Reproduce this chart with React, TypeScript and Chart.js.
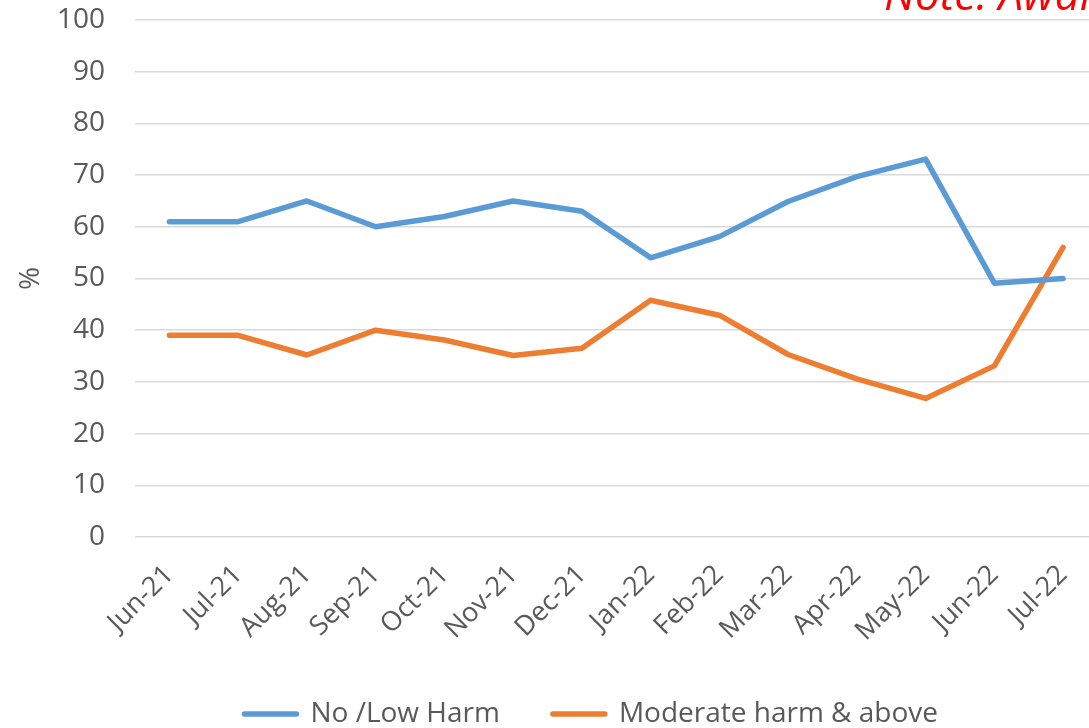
import React, { useEffect, useRef } from "react";
import { Chart, registerables } from "chart.js";

Chart.register(...registerables);

const categories = [
  "Jun-21", "Jul-21", "Aug-21", "Sep-21", "Oct-21", "Nov-21", "Dec-21",
  "Jan-22", "Feb-22", "Mar-22", "Apr-22", "May-22", "Jun-22", "Jul-22",
];
const noLowHarm = [61, 61, 65, 60, 62, 65, 63, 54, 58.1, 64.9, 69.7, 73.1, 49.1, 50];
const moderateAbove = [39, 39, 35.2, 40, 38.1, 35.1, 36.5, 45.8, 42.9, 35.3, 30.6, 26.8, 33.1, 56];
const seriesNames = ["No /Low Harm", "Moderate harm & above"];
const noteText = "Note: Awaiting";

const FONT = "'Open Sans', 'DejaVu Sans', sans-serif";
const GREY = "#595959";

const legendShift = {
  id: "legendShift",
  afterLayout(chart: any) {
    if (chart.legend) {
      chart.legend.left -= 25;
      chart.legend.right -= 25;
    }
  },
};

export default function App() {
  const ref = useRef<HTMLCanvasElement | null>(null);

  useEffect(() => {
    const canvas = ref.current;
    if (!canvas) return;
    const chart = new Chart(canvas, {
      type: "line",
      data: {
        labels: categories,
        datasets: [
          {
            label: seriesNames[0],
            data: noLowHarm,
            borderColor: "#5b9bd5",
            backgroundColor: "#5b9bd5",
            borderWidth: 5.5,
            pointRadius: 0,
            borderCapStyle: "round",
            borderJoinStyle: "round",
            tension: 0,
          },
          {
            label: seriesNames[1],
            data: moderateAbove,
            borderColor: "#ed7d31",
            backgroundColor: "#ed7d31",
            borderWidth: 5.5,
            pointRadius: 0,
            borderCapStyle: "round",
            borderJoinStyle: "round",
            tension: 0,
          },
        ],
      },
      plugins: [legendShift],
      options: {
        responsive: false,
        animation: false,
        devicePixelRatio: 1,
        layout: { padding: { top: 20, left: 0, right: 0, bottom: -10 } },
        plugins: {
          tooltip: { enabled: false },
          legend: {
            position: "bottom",
            fullSize: false,
            labels: {
              boxWidth: 52,
              boxHeight: 0,
              padding: 53,
              color: GREY,
              font: { family: FONT, size: 28 },
            },
          },
        },
        scales: {
          x: {
            type: "category",
            offset: true,
            grid: { display: false },
            border: { display: false },
            ticks: {
              color: GREY,
              font: { family: FONT, size: 27 },
              minRotation: 45,
              maxRotation: 45,
              autoSkip: false,
              padding: 14,
            },
            afterFit: (scale: any) => {
              scale.height = 110;
            },
          },
          y: {
            min: 0,
            max: 100,
            border: { display: false },
            grid: {
              color: "#d9d9d9",
              lineWidth: 1.5,
              drawTicks: true,
              tickLength: 30,
              tickColor: "rgba(0,0,0,0)",
            },
            ticks: {
              stepSize: 10,
              color: GREY,
              font: { family: FONT, size: 28 },
              padding: 0,
            },
            title: {
              display: true,
              text: "%",
              color: GREY,
              font: { family: FONT, size: 28 },
              padding: { top: 14, bottom: 0 },
            },
            afterFit: (scale: any) => {
              scale.width = 135;
            },
          },
        },
      },
    });
    return () => chart.destroy();
  }, []);

  return (
    <div
      style={{
        position: "fixed",
        left: 0,
        top: 0,
        width: 1089,
        height: 728,
        overflow: "hidden",
        background: "#fff",
      }}
    >
      <canvas ref={ref} width={1100} height={728} style={{ width: 1100, height: 728, display: "block" }} />
      <div
        style={{
          position: "absolute",
          left: 884,
          top: -29,
          fontFamily: FONT,
          fontStyle: "italic",
          fontSize: 44,
          lineHeight: "44px",
          color: "#ff0000",
          whiteSpace: "nowrap",
        }}
      >
        {noteText}
      </div>
    </div>
  );
}
